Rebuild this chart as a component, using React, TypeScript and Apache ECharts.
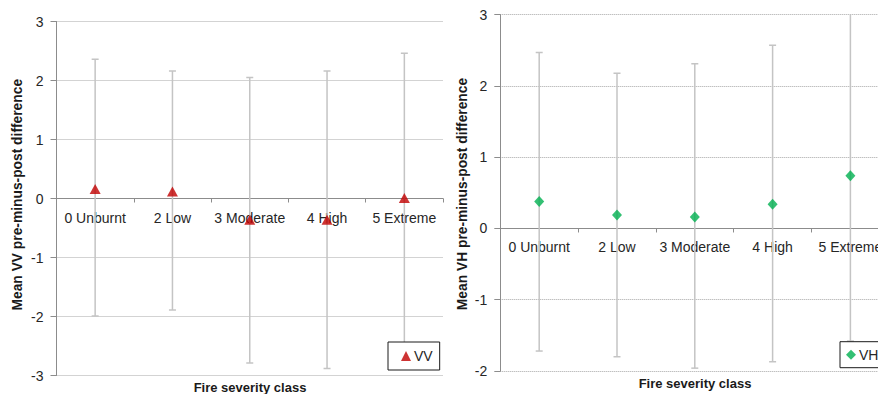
import React, { useEffect, useRef } from "react";
import * as echarts from "echarts";

const categories = ["0 Unburnt", "2 Low", "3 Moderate", "4 High", "5 Extreme"];
const vvMean = [0.16, 0.12, -0.36, -0.36, 0.01];
const vvLower = [-1.99, -1.89, -2.79, -2.88, -2.47];
const vvUpper = [2.36, 2.16, 2.05, 2.16, 2.46];
const vhMean = [0.38, 0.19, 0.16, 0.34, 0.74];
const vhLower = [-1.72, -1.8, -1.96, -1.87, -1.58];
const vhUpper = [2.47, 2.18, 2.31, 2.57, 3.2];
const vvTicks = { min: -3, max: 3, interval: 1 };
const vhTicks = { min: -2, max: 3, interval: 1 };

const FONT = "'Liberation Sans', Arial, sans-serif";
const TXT = "#262626";
const AXIS = "#8c8c8c";
const GRIDC = "#a6a6a6";
const ERR = "#c4c4c4";

function errorRender(params: any, api: any) {
  const x = api.value(0);
  const lo = api.coord([x, api.value(1)]);
  const hi = api.coord([x, api.value(2)]);
  const cw = 3.5;
  const style = { stroke: ERR, lineWidth: 1.5 };
  return {
    type: "group",
    children: [
      { type: "line", shape: { x1: lo[0], y1: lo[1], x2: hi[0], y2: hi[1] }, style },
      { type: "line", shape: { x1: lo[0] - cw, y1: lo[1], x2: lo[0] + cw, y2: lo[1] }, style },
      { type: "line", shape: { x1: hi[0] - cw, y1: hi[1], x2: hi[0] + cw, y2: hi[1] }, style },
    ],
  };
}

// the category axis sits at y = 0: offset it up from the grid bottom by the zero's distance
function xAxisCfg(gridIndex: number, t: { min: number; max: number }, gridHeight: number) {
  const offset = -(gridHeight * (0 - t.min)) / (t.max - t.min);
  return {
    type: "category",
    gridIndex,
    position: "bottom",
    offset,
    data: categories,
    boundaryGap: true,
    axisLine: { onZero: false, lineStyle: { color: AXIS, width: 1 } },
    axisTick: { show: true, length: 4, lineStyle: { color: AXIS } },
    axisLabel: { interval: 0, margin: 12, color: TXT, fontSize: 14, fontFamily: FONT, hideOverlap: false },
    splitLine: { show: false },
  };
}

function yAxisCfg(gridIndex: number, t: { min: number; max: number; interval: number }) {
  return {
    type: "value",
    gridIndex,
    min: t.min,
    max: t.max,
    interval: t.interval,
    axisLine: { show: true, lineStyle: { color: AXIS, width: 1 } },
    axisTick: { show: true, length: 6, lineStyle: { color: AXIS } },
    axisLabel: { margin: 13, color: TXT, fontSize: 14, fontFamily: FONT },
    splitLine: { show: true, lineStyle: { color: GRIDC, type: [1, 1], width: 1 } },
  };
}

export default function App() {
  const ref = useRef<HTMLDivElement>(null);
  useEffect(() => {
    if (!ref.current) return;
    const chart = echarts.init(ref.current, null, { renderer: "svg" });
    const yTitle = { fill: "#1a1a1a", font: `bold 13.8px ${FONT}`, textAlign: "center", textVerticalAlign: "middle" };
    const xTitle = { fill: "#1a1a1a", font: `bold 13px ${FONT}`, textAlign: "center", textVerticalAlign: "middle" };
    const h0 = 354;
    const h1 = 356.3;
    chart.setOption({
      animation: false,
      backgroundColor: "#ffffff",
      grid: [
        { left: 56.5, top: 21.5, width: 386.5, height: h0, containLabel: false, outerBoundsMode: "none" },
        { left: 500.3, top: 14.7, width: 389, height: h1, containLabel: false, outerBoundsMode: "none" },
      ],
      xAxis: [xAxisCfg(0, vvTicks, h0), xAxisCfg(1, vhTicks, h1)],
      yAxis: [yAxisCfg(0, vvTicks), yAxisCfg(1, vhTicks)],
      legend: [
        {
          data: [{ name: "VV", icon: "triangle" }],
          left: 388,
          top: 342,
          padding: [7, 7, 7, 13],
          itemWidth: 10,
          itemHeight: 10,
          itemGap: 4,
          borderColor: "#1a1a1a",
          borderWidth: 1,
          backgroundColor: "#fff",
          textStyle: { color: TXT, fontSize: 14, fontFamily: FONT, padding: [0, 0, 0, -2] },
        },
        {
          data: [{ name: "VH", icon: "diamond" }],
          left: 840,
          top: 341.7,
          padding: [6, 14, 6, 6],
          itemWidth: 10,
          itemHeight: 10,
          borderColor: "#1a1a1a",
          borderWidth: 1,
          backgroundColor: "#fff",
          textStyle: { color: TXT, fontSize: 14, fontFamily: FONT, padding: [0, 0, 0, -2] },
        },
      ],
      series: [
        {
          name: "VV error",
          type: "custom",
          xAxisIndex: 0,
          yAxisIndex: 0,
          clip: true,
          renderItem: errorRender,
          encode: { x: 0, y: [1, 2] },
          data: categories.map((_, i) => [i, vvLower[i], vvUpper[i]]),
          z: 2,
        },
        {
          name: "VH error",
          type: "custom",
          xAxisIndex: 1,
          yAxisIndex: 1,
          clip: true,
          renderItem: errorRender,
          encode: { x: 0, y: [1, 2] },
          data: categories.map((_, i) => [i, vhLower[i], vhUpper[i]]),
          z: 2,
        },
        {
          name: "VV",
          type: "scatter",
          xAxisIndex: 0,
          yAxisIndex: 0,
          symbol: "triangle",
          symbolSize: [11, 10],
          itemStyle: { color: "#c00000" },
          data: vvMean,
          z: 5,
        },
        {
          name: "VH",
          type: "scatter",
          xAxisIndex: 1,
          yAxisIndex: 1,
          symbol: "diamond",
          symbolSize: [10, 11],
          itemStyle: { color: "#00b050" },
          data: vhMean,
          z: 5,
        },
      ],
      graphic: [
        { type: "text", x: 17, y: 194.7, rotation: Math.PI / 2, style: { text: "Mean VV pre-minus-post difference", ...yTitle } },
        { type: "text", x: 462, y: 194, rotation: Math.PI / 2, style: { text: "Mean VH pre-minus-post difference", ...yTitle } },
        { type: "text", x: 250, y: 387.7, style: { text: "Fire severity class", ...xTitle } },
        { type: "text", x: 695, y: 383.3, style: { text: "Fire severity class", ...xTitle } },
      ],
    });
    return () => chart.dispose();
  }, []);
  return (
    <div
      ref={ref}
      style={{ position: "absolute", left: 0, top: 0, width: 878, height: 394 }}
    />
  );
}
